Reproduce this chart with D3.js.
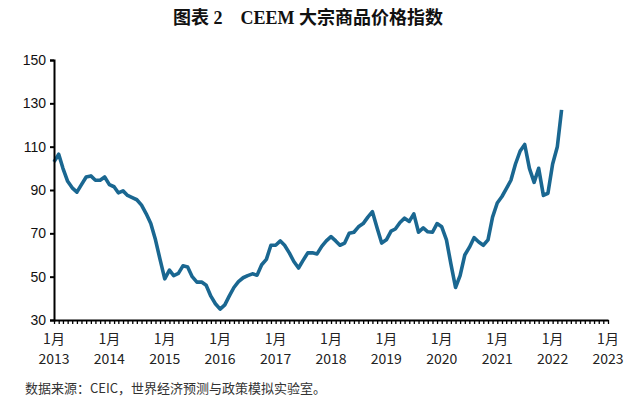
<!DOCTYPE html>
<html>
<head>
<meta charset="utf-8">
<script src="https://cdn.jsdelivr.net/npm/d3@7"></script>
<style>
    body { margin: 0; background: #fff; }
    svg { display: block; }
</style>
</head>
<body>
<div id="chart"></div>
<script>
// CEEM commodity price index, monthly, 2013-01 .. 2022-03
const startMonth = "2013-01";
const indexValues = [
    103, 106.5, 100, 94, 91, 89, 92.5, 96, 96.5, 94.5, 94.5, 96,
    92.5, 91.5, 88.7, 89.6, 87.5, 86.5, 85.5, 83, 79, 74.5, 67, 58,
    49, 53, 50.5, 51.5, 55, 54.5, 50, 47.5, 47.5, 46, 41, 37.5,
    35, 37, 41, 45, 47.7, 49.5, 50.5, 51.3, 50.7, 55.5, 58, 64.5,
    64.5, 66.5, 64.5, 61, 57, 54, 57.5, 61, 61, 60.5, 64, 66.5,
    68.5, 66.5, 64.5, 65.5, 70, 70.5, 73, 74.5, 77.5, 80, 72.5, 65.5,
    67, 71, 72, 75, 77, 75.5, 79, 70.5, 72.5, 70.7, 70.5, 74.5,
    73, 67, 56, 45, 50.5, 60, 63.5, 68, 66, 64.5, 67, 77.5,
    84, 87, 90.5, 94.5, 102, 108, 111, 100, 93.5, 100, 87.5, 88.5,
    102, 110, 127
];
const yTicks = [30, 50, 70, 90, 110, 130, 150];
const yearLabels = ["2013", "2014", "2015", "2016", "2017", "2018",
    "2019", "2020", "2021", "2022", "2023"];
const monthLabel = "1月";

const titleText = "图表 2\u3000CEEM 大宗商品价格指数";
const sourceText = "数据来源：CEIC，世界经济预测与政策模拟实验室。";

const width = 640;
const height = 407;

const parseMonth = d3.timeParse("%Y-%m");
const t0 = parseMonth(startMonth);
const data = indexValues.map((v, i) => ({
    date: d3.timeMonth.offset(t0, i),
    value: v,
}));

const svg = d3
    .select("#chart")
    .append("svg")
    .attr("width", width)
    .attr("height", height);

// Title
svg.append("text")
    .attr("x", 308)
    .attr("y", 24)
    .attr("text-anchor", "middle")
    .style("font-family", "'Liberation Serif', 'Noto Sans CJK SC', serif")
    .style("font-weight", "bold")
    .style("font-size", "18px")
    .attr("fill", "#111")
    .text(titleText);

// Scales
const x = d3
    .scaleTime()
    .domain([parseMonth("2013-01"), parseMonth("2023-01")])
    .range([54, 608]);

const y = d3.scaleLinear().domain([30, 150]).range([320, 60]);

// Line
const line = d3
    .line()
    .x((d) => x(d.date))
    .y((d) => y(d.value));

svg.append("path")
    .datum(data)
    .attr("fill", "none")
    .attr("stroke", "#1a6791")
    .attr("stroke-width", 3.6)
    .attr("stroke-linejoin", "round")
    .attr("d", line);

// Y axis
const yAxis = svg
    .append("g")
    .attr("transform", `translate(${x.range()[0]},0)`)
    .call(d3.axisLeft(y).tickValues(yTicks).tickSize(4).tickPadding(4));

yAxis.select(".domain").attr("stroke-width", 2).attr("stroke", "#000");
yAxis.selectAll(".tick line").attr("stroke-width", 2).attr("stroke", "#000");
yAxis.selectAll(".tick text")
    .style("font-family", "'Liberation Sans', Arial, sans-serif")
    .style("font-size", "14px")
    .attr("fill", "#111");

// X axis: monthly ticks, labels only at January
const xAxis = svg
    .append("g")
    .attr("transform", `translate(0,${y.range()[0]})`)
    .call(
        d3.axisBottom(x)
            .ticks(d3.timeMonth.every(1))
            .tickSize(4)
            .tickSizeOuter(0)
            .tickFormat("")
    );

xAxis.select(".domain").attr("stroke-width", 2).attr("stroke", "#000");
xAxis.selectAll(".tick line").attr("stroke-width", 1.3).attr("stroke", "#000");

const janTicks = yearLabels.map((yr) => parseMonth(yr + "-01"));

const labels = svg.append("g")
    .style("font-family", "'Noto Sans CJK SC', sans-serif")
    .style("font-size", "14px")
    .attr("fill", "#222")
    .attr("text-anchor", "middle");

labels.selectAll(".mon")
    .data(janTicks)
    .enter()
    .append("text")
    .attr("class", "mon")
    .attr("x", (d) => x(d))
    .attr("y", 344)
    .text(monthLabel);

labels.selectAll(".yr")
    .data(yearLabels)
    .enter()
    .append("text")
    .attr("class", "yr")
    .attr("x", (d, i) => x(janTicks[i]))
    .attr("y", 364)
    .text((d) => d);

// Source note
svg.append("text")
    .attr("x", 25)
    .attr("y", 393)
    .style("font-family", "'Noto Sans CJK SC', sans-serif")
    .style("font-size", "13px")
    .attr("fill", "#333")
    .text(sourceText);
</script>
</body>
</html>
